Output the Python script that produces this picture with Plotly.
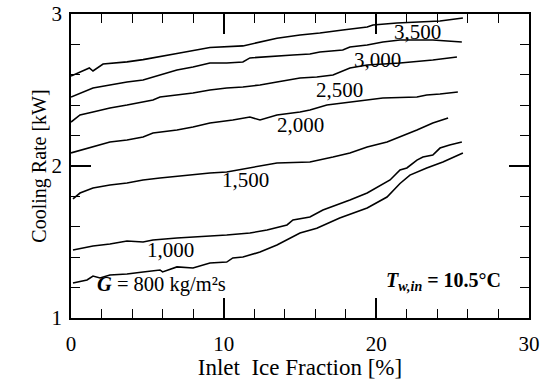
import plotly.graph_objects as go

# Inlet ice fraction [%] and cooling rate [kW] for each mass flux G [kg/m2s]
x_800 = [0.13, 1.05, 1.44, 1.9, 2.55, 3.67, 4.72, 5.83, 6.0, 6.94, 7.99, 9.1, 10.2, 10.6, 11.26,
         12.38, 13.49, 14.54, 15.0, 16.1, 17.6, 19.4, 20.7, 21.55, 22.2, 23.3, 24.36, 25.67]
q_800 = [1.23, 1.25, 1.276, 1.263, 1.283, 1.289, 1.303, 1.316, 1.303, 1.336, 1.329, 1.362, 1.368, 1.395, 1.401,
         1.434, 1.48, 1.533, 1.559, 1.59, 1.658, 1.724, 1.796, 1.885, 1.94, 1.987, 2.026, 2.086]

x_1000 = [0.13, 0.79, 1.44, 2.55, 3.67, 4.72, 5.37, 6.94, 8.45, 10.2, 11.72, 12.84, 14.15, 14.54,
          15.65, 16.5, 18.27, 19.4, 20.9, 21.55, 22.0, 22.66, 23.05, 23.7, 24.17, 24.8, 25.6]
q_1000 = [1.447, 1.461, 1.474, 1.487, 1.507, 1.5, 1.513, 1.526, 1.533, 1.546, 1.559, 1.579, 1.612, 1.645,
          1.664, 1.711, 1.776, 1.822, 1.908, 1.974, 1.987, 2.039, 2.059, 2.072, 2.118, 2.138, 2.158]

x_1500 = [0.13, 0.59, 1.44, 2.55, 3.67, 4.72, 5.83, 7.6, 9.1, 10.2, 13.49, 15.65, 16.3, 17.16,
          18.27, 19.4, 20.7, 21.55, 22.66, 23.7, 24.7]
q_1500 = [1.783, 1.822, 1.855, 1.875, 1.888, 1.908, 1.921, 1.941, 1.954, 1.961, 2.02, 2.026, 2.039, 2.059,
          2.086, 2.125, 2.158, 2.191, 2.237, 2.283, 2.316]

x_2000 = [0.0, 1.44, 2.55, 3.67, 4.72, 5.37, 6.94, 7.99, 9.1, 10.6, 11.72, 12.38, 13.49, 15.0,
          15.65, 16.76, 18.27, 20.43, 22.66, 23.3, 24.17, 25.34]
q_2000 = [2.086, 2.125, 2.158, 2.171, 2.191, 2.217, 2.237, 2.257, 2.283, 2.303, 2.322, 2.303, 2.336, 2.355,
          2.368, 2.401, 2.421, 2.447, 2.454, 2.467, 2.474, 2.487]

x_2500 = [0.0, 0.59, 1.44, 2.55, 3.67, 4.72, 5.37, 5.83, 6.94, 7.99, 9.1, 10.2, 11.26, 12.38,
          13.49, 15.0, 16.1, 17.16, 18.27, 19.4, 21.55, 23.7, 25.28]
q_2500 = [2.289, 2.336, 2.355, 2.382, 2.401, 2.421, 2.434, 2.454, 2.467, 2.48, 2.5, 2.513, 2.52, 2.533,
          2.553, 2.579, 2.586, 2.599, 2.645, 2.664, 2.678, 2.697, 2.717]

x_3000 = [0.0, 0.59, 1.44, 2.55, 3.67, 4.72, 5.83, 6.94, 7.99, 9.1, 10.2, 11.26, 11.72, 12.84,
          14.54, 15.65, 16.3, 17.8, 18.27, 19.4, 20.43, 21.55, 23.7, 25.6]
q_3000 = [2.454, 2.48, 2.513, 2.533, 2.553, 2.566, 2.599, 2.632, 2.651, 2.678, 2.678, 2.684, 2.711, 2.717,
          2.73, 2.737, 2.75, 2.763, 2.783, 2.796, 2.816, 2.829, 2.829, 2.816]

x_3500 = [0.0, 1.2, 1.44, 2.1, 3.67, 4.72, 6.94, 9.1, 11.26, 13.49, 15.0, 16.3, 17.8, 19.4,
          19.78, 21.35, 24.17, 25.67]
q_3500 = [2.592, 2.645, 2.625, 2.671, 2.685, 2.70, 2.74, 2.78, 2.79, 2.84, 2.862, 2.875, 2.895, 2.914,
          2.928, 2.941, 2.954, 2.974]

series = [
    ("800", x_800, q_800),
    ("1,000", x_1000, q_1000),
    ("1,500", x_1500, q_1500),
    ("2,000", x_2000, q_2000),
    ("2,500", x_2500, q_2500),
    ("3,000", x_3000, q_3000),
    ("3,500", x_3500, q_3500),
]

# curve labels: (text, x, y)
curve_labels = [
    ("1,000", 6.5, 1.45),
    ("1,500", 11.4, 1.91),
    ("2,000", 15.06, 2.27),
    ("2,500", 17.6, 2.50),
    ("3,000", 20.1, 2.70),
    ("3,500", 22.7, 2.88),
]

FONT = "Liberation Serif"

fig = go.Figure()
for name, xs, qs in series:
    fig.add_trace(go.Scatter(x=xs, y=qs, mode="lines", name=name,
                             line=dict(color="black", width=1.6), showlegend=False))

annotations = []
for text, ax, ay in curve_labels:
    annotations.append(dict(x=ax, y=ay, xref="x", yref="y", text=text, showarrow=False,
                            font=dict(family=FONT, size=21, color="black")))
annotations.append(dict(x=5.9, y=1.22, xref="x", yref="y", showarrow=False,
                        text="<b><i>G</i></b> = 800 kg/m²s",
                        font=dict(family=FONT, size=20.5, color="black")))
annotations.append(dict(x=24.4, y=1.24, xref="x", yref="y", showarrow=False,
                        text="<b><i>T</i><sub><i>w,in</i></sub> = 10.5°C</b>",
                        font=dict(family=FONT, size=20, color="black")))

axis_common = dict(showgrid=False, zeroline=False, showline=True, linecolor="black", linewidth=1.6,
                   mirror="ticks", ticks="inside", tickcolor="black", tickwidth=1.5,
                   automargin=False, ticklabeloverflow="allow",
                   tickfont=dict(family=FONT, size=21, color="black"))

fig.update_layout(
    width=555, height=380,
    margin=dict(l=71, r=26, t=14, b=62),
    paper_bgcolor="white", plot_bgcolor="white",
    annotations=annotations,
    xaxis=dict(range=[0, 30], dtick=10, tick0=0, ticklen=20,
               minor=dict(dtick=2, ticks="inside", ticklen=9, tickcolor="black", tickwidth=1.3),
               title=dict(text="Inlet  Ice Fraction [%]", font=dict(family=FONT, size=23, color="black"), standoff=0),
               ticklabelstandoff=6,
               **axis_common),
    yaxis=dict(range=[1, 3], dtick=1, tick0=1, ticklen=20,
               minor=dict(dtick=0.2, ticks="inside", ticklen=9, tickcolor="black", tickwidth=1.3),
               title=dict(text="Cooling Rate [kW]", font=dict(family=FONT, size=20, color="black"), standoff=0),
               ticklabelstandoff=3,
               **axis_common),
)

# remove the page's default 8px body margin so the figure sits at the window origin
fig.write_html("out.html", config={"displayModeBar": False},
               post_script="document.body.style.margin='0px';")
